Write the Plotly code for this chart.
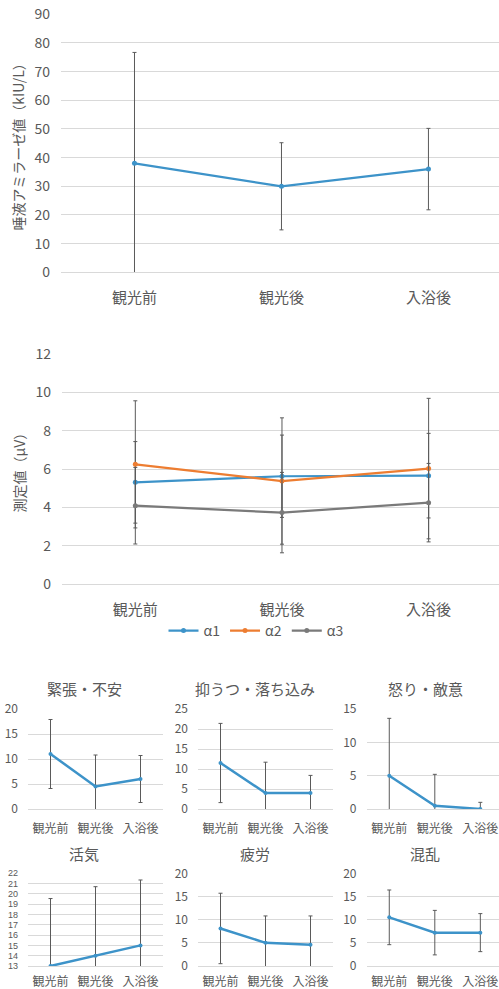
import plotly.graph_objects as go

# --- data -------------------------------------------------------------
categories = ["観光前", "観光後", "入浴後"]

# salivary amylase (kIU/L): mean and SD
amylase_mean = [38.0, 30.0, 36.0]
amylase_sd = [38.7, 15.2, 14.2]

# EEG alpha bands (μV): mean and SD
alpha1_mean = [5.31, 5.63, 5.66]
alpha1_sd = [2.13, 2.15, 2.21]
alpha2_mean = [6.25, 5.38, 6.03]
alpha2_sd = [3.32, 3.30, 3.67]
alpha3_mean = [4.09, 3.73, 4.25]
alpha3_sd = [2.00, 2.10, 2.05]

# POMS sub-scales: mean and SD
tension_mean = [11.0, 4.5, 6.0]
tension_sd = [6.9, 6.3, 4.7]
depression_mean = [11.5, 4.0, 4.0]
depression_sd = [9.9, 7.7, 4.4]
anger_mean = [5.0, 0.5, 0.0]
anger_sd = [8.6, 4.7, 1.0]
vigor_mean = [13.0, 14.0, 15.0]
vigor_sd = [6.55, 6.7, 6.35]
fatigue_mean = [8.1, 5.0, 4.6]
fatigue_sd = [7.6, 5.8, 6.2]
confusion_mean = [10.5, 7.2, 7.2]
confusion_sd = [5.9, 4.8, 4.1]

poms_titles = ["緊張・不安", "抑うつ・落ち込み", "怒り・敵意", "活気", "疲労", "混乱"]

# --- styling ----------------------------------------------------------
W, H = 499, 989
FONT = "Noto Sans CJK JP, Noto Sans, sans-serif"
DENSE_FONT = "Liberation Sans, Arial, sans-serif"
TXT = "#595959"
GRID = "#d9d9d9"
ERR = "#5a5a5a"
BLUE = "#3d93c9"
ORANGE = "#ed7d31"
GREY = "#7a7a7a"


def px_x(a, b):
    return [a / W, min(b / W, 1.0)]


def px_y(top, bottom):
    return [1 - bottom / H, 1 - top / H]


fig = go.Figure()


def add_series(n, y, sd, color, name=None, width=2.0, msize=5, show=False):
    sfx = "" if n == 1 else str(n)
    fig.add_trace(go.Scatter(
        x=categories, y=y, name=name, showlegend=show,
        mode="lines+markers",
        line=dict(color=color, width=width),
        marker=dict(color=color, size=msize),
        error_y=dict(type="data", array=sd, visible=True,
                     color=ERR, thickness=1, width=2),
        xaxis="x" + sfx, yaxis="y" + sfx,
    ))


def set_axes(n, xdom, ydom, xrange, yrange, dtick, tfont, cfont,
             ystand=8, xstand=6, ytitle=None, tfamily=FONT):
    sfx = "" if n == 1 else str(n)
    fig.layout["xaxis" + sfx] = dict(
        domain=xdom, anchor="y" + sfx, type="category",
        range=xrange, showgrid=False, zeroline=False, automargin=False,
        showline=True, linecolor=GRID, linewidth=1, ticks="",
        tickfont=dict(size=cfont, color=TXT, family=FONT),
        ticklabelstandoff=xstand, fixedrange=True,
    )
    yax = dict(
        domain=ydom, anchor="x" + sfx, range=yrange, dtick=dtick,
        showgrid=True, gridcolor=GRID, gridwidth=1, zeroline=False,
        showline=False, ticks="", automargin=False,
        tickfont=dict(size=tfont, color=TXT, family=tfamily),
        ticklabelstandoff=ystand, fixedrange=True,
    )
    if ytitle:
        yax["title"] = dict(text=ytitle, font=dict(size=14, color=TXT, family=FONT),
                            standoff=6)
    fig.layout["yaxis" + sfx] = yax


# salivary amylase
add_series(1, amylase_mean, amylase_sd, BLUE, width=2.2)
set_axes(1, px_x(61, 499), px_y(14.3, 272.3), [-0.5, 2.48], [0, 90], 10,
         14, 15, ystand=10, xstand=12, ytitle="唾液アミラーゼ値（kIU/L）")

# alpha waves
add_series(2, alpha1_mean, alpha1_sd, BLUE, name="α1", width=2.2, show=True)
add_series(2, alpha2_mean, alpha2_sd, ORANGE, name="α2", width=2.2, show=True)
add_series(2, alpha3_mean, alpha3_sd, GREY, name="α3", width=2.2, show=True)
set_axes(2, px_x(62, 499), px_y(354.3, 584), [-0.5, 2.48], [0, 12], 2,
         14, 15, ystand=10, xstand=12, ytitle="測定値（μV）")

# POMS panels
poms_means = [tension_mean, depression_mean, anger_mean,
              vigor_mean, fatigue_mean, confusion_mean]
poms_sds = [tension_sd, depression_sd, anger_sd,
            vigor_sd, fatigue_sd, confusion_sd]
poms_ranges = [[0, 20], [0, 25], [0, 15], [13, 22], [0, 20], [0, 20]]
poms_dticks = [5, 5, 5, 1, 5, 5]
col_x = [(28, 163), (198, 333), (366.5, 499)]
col_xrange = [[-0.5, 2.5], [-0.5, 2.5], [-0.5, 2.41]]
col_center = [84, 255, 425]
row_y = [(709, 809), (873.3, 966)]
row_title = [688, 853]
row_xstand = [9, 5]

for i in range(6):
    n = 3 + i
    r, c = divmod(i, 3)
    add_series(n, poms_means[i], poms_sds[i], BLUE, width=2.5, msize=4)
    dense = poms_dticks[i] == 1
    set_axes(n, px_x(*col_x[c]), px_y(*row_y[r]), col_xrange[c],
             poms_ranges[i], poms_dticks[i], 9 if dense else 12, 12,
             ystand=9, xstand=row_xstand[r],
             tfamily=DENSE_FONT if dense else FONT)
    fig.add_annotation(
        text=poms_titles[i], xref="paper", yref="paper",
        x=col_center[c] / W, y=1 - row_title[r] / H,
        xanchor="center", yanchor="middle", showarrow=False,
        font=dict(size=15, color=TXT, family=FONT),
    )

fig.update_layout(
    width=W, height=H,
    margin=dict(l=0, r=0, t=0, b=0, autoexpand=False),
    paper_bgcolor="white", plot_bgcolor="white",
    font=dict(family=FONT, color=TXT),
    showlegend=True,
    legend=dict(orientation="h", x=256 / W, xanchor="center",
                y=1 - 631 / H, yanchor="middle",
                font=dict(size=14, color=TXT, family=FONT),
                itemwidth=30, tracegroupgap=0, bgcolor="rgba(0,0,0,0)"),
)

fig.write_html("out.html")
